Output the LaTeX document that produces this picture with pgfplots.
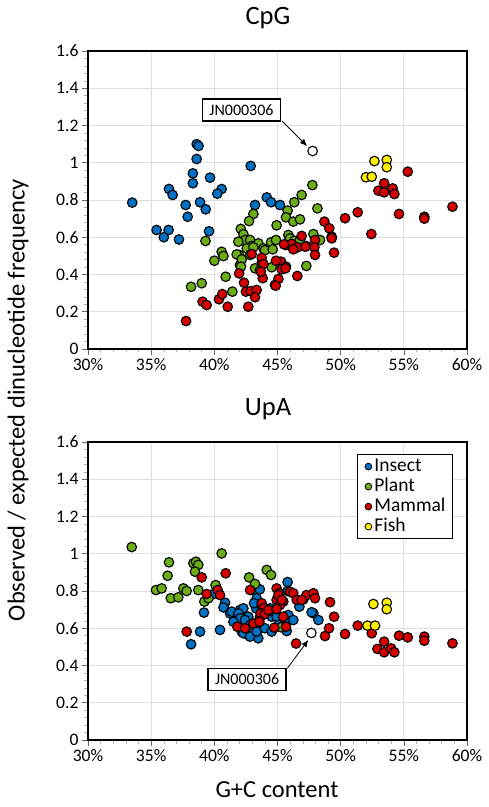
\documentclass[border=0pt]{standalone}
\usepackage{pgfplots}
\pgfplotsset{compat=1.18}
\usepackage{fontspec}
\setmainfont{Carlito}
\usetikzlibrary{arrows.meta}
\definecolor{cInsect}{RGB}{0,112,192}
\definecolor{cPlant}{RGB}{108,172,24}
\definecolor{cMammal}{RGB}{212,0,0}
\definecolor{cFish}{RGB}{255,240,0}
\pgfplotsset{
  base/.style={
    scale only axis, width=379pt, height=298pt,
    xmin=30, xmax=60, ymin=0, ymax=1.6,
    xtick={30,35,40,45,50,55,60},
    xticklabels={30\%,35\%,40\%,45\%,50\%,55\%,60\%},
    ytick={0,0.2,0.4,0.6,0.8,1,1.2,1.4,1.6},
    yticklabels={0,0.2,0.4,0.6,0.8,1,1.2,1.4,1.6},
    minor x tick num=4, minor y tick num=4,
    tick align=outside, tick pos=left,
    major tick length=6pt, minor tick length=3.5pt,
    major tick style={gray!80!black, line width=0.6pt},
    minor tick style={gray!60, line width=0.5pt},
    grid=major, major grid style={gray!25, line width=0.7pt},
    axis line style={black, line width=1.4pt},
    ticklabel style={font=\fontsize{17.6}{17.6}\selectfont},
    clip=false,
    legend image code/.code={\path[draw=none, fill=none] (0pt,-3pt) rectangle (10pt,3pt); \draw[##1, mark size=3.4pt, line width=0.8pt] plot coordinates {(5pt,0pt)};},
  },
  sp/.style={only marks, mark=*, mark size=4.8pt, draw=black, fill=#1, line width=1.1pt},
}
\begin{document}
\begin{tikzpicture}[x=1pt,y=1pt]
\useasboundingbox (0,0) rectangle (488,807);
% ---------------- CpG ----------------
\begin{axis}[base, at={(88pt,458pt)}, anchor=south west]
\addplot[sp=cInsect] coordinates {
(33.5,0.786)(38.6,1.10)(38.75,1.09)(38.6,1.02)(38.3,0.943)(38.3,0.89)(39.66,0.92)
(36.41,0.859)(36.7,0.827)(40.58,0.859)(40.24,0.834)(42.88,0.983)(37.73,0.773)
(38.87,0.788)(39.32,0.75)(37.89,0.71)(44.15,0.814)(44.49,0.788)(43.22,0.773)
(45.2,0.773)(35.43,0.639)(36.38,0.639)(36.0,0.60)(37.2,0.588)(39.58,0.632)
};
\addplot[sp=cPlant] coordinates {
(47.76,0.88)(46.91,0.827)(46.33,0.788)(45.8,0.743)(48.16,0.755)(45.67,0.707)
(46.25,0.684)(46.78,0.696)(44.93,0.664)(43.09,0.725)(42.75,0.687)(42.09,0.645)
(42.3,0.616)(42.43,0.585)(39.3,0.58)(40.58,0.522)(40.72,0.499)(40.0,0.474)
(40.9,0.388)(38.16,0.334)(39.0,0.353)(41.43,0.308)(41.96,0.505)(42.03,0.451)
(42.83,0.585)(42.96,0.553)(43.49,0.567)(43.89,0.54)(44.0,0.53)(44.49,0.573)
(44.62,0.535)(44.88,0.585)(45.86,0.612)(45.99,0.594)(46.33,0.581)(46.78,0.585)
(47.84,0.617)(48.37,0.585)(41.9,0.576)(42.56,0.54)(42.83,0.505)(43.09,0.546)
(41.77,0.508)(42.17,0.481)(42.11,0.442)(43.22,0.433)(43.62,0.424)(44.54,0.439)
(47.28,0.446)
};
\addplot[sp=cMammal] coordinates {
(37.76,0.150)(39.07,0.254)(39.39,0.236)(40.37,0.267)(40.63,0.295)(41.06,0.227)
(41.96,0.406)(42.35,0.356)(42.69,0.227)(42.5,0.308)(42.88,0.311)(43.35,0.317)
(43.22,0.278)(42.96,0.51)(43.75,0.463)(43.83,0.38)(44.8,0.344)(45.07,0.376)
(43.75,0.49)(43.89,0.456)(43.69,0.415)(48.71,0.684)(49.1,0.648)(45.67,0.558)
(46.12,0.564)(46.6,0.546)(46.91,0.607)(47.28,0.553)(47.97,0.585)(47.92,0.546)
(47.97,0.505)(45.28,0.469)(44.88,0.474)(45.67,0.442)(45.33,0.428)(46.57,0.392)
(44.86,0.34)(45.51,0.562)(46.25,0.535)(47.2,0.549)(45.64,0.433)(55.31,0.952)
(53.44,0.89)(52.99,0.85)(53.44,0.841)(54.12,0.862)(54.25,0.832)(58.85,0.764)
(50.35,0.702)(51.35,0.734)(54.62,0.725)(56.62,0.71)(56.62,0.70)(52.43,0.617)
(49.29,0.603)(49.29,0.594)(49.48,0.517)
};
\addplot[sp=cFish] coordinates {
(52.67,1.009)(53.65,1.015)(53.65,0.976)(52.0,0.922)(52.46,0.925)
};
\addplot[sp=white, forget plot] coordinates {(47.78,1.063)};
\draw[-{Latex[length=7pt,width=6pt]}, line width=0.8pt] (axis cs:45.36,1.224) -- (axis cs:47.34,1.09);
\node[draw=black, line width=1.3pt, fill=white, font=\fontsize{16}{16}\selectfont, inner xsep=7pt, minimum height=22pt] at (axis cs:42.15,1.283) {JN000306};
\end{axis}
% ---------------- UpA ----------------
\begin{axis}[base, at={(88pt,67pt)}, anchor=south west,
  legend cell align=left,
  legend style={at={(1,1)}, anchor=north east, xshift=-14pt, yshift=-12pt,
    draw=black, line width=1.2pt, font=\fontsize{19.5}{19.5}\selectfont,
    nodes={inner sep=1pt, text height=13.5pt, text depth=4.5pt}, row sep=0pt,
    inner xsep=6pt, inner ysep=2pt}]
\addplot[sp=cInsect] coordinates {
(39.18,0.684)(38.16,0.514)(38.87,0.582)(40.45,0.591)(40.85,0.737)(40.72,0.712)
(41.24,0.68)(42.03,0.698)(42.3,0.707)(41.98,0.662)(42.17,0.635)(42.69,0.662)
(42.69,0.564)(42.17,0.582)(43.43,0.591)(43.48,0.546)(43.09,0.805)(43.35,0.761)
(43.3,0.707)(44.54,0.662)(44.67,0.689)(44.41,0.707)(39.87,0.782)(45.8,0.848)
(45.8,0.80)(41.38,0.689)(41.9,0.68)(42.03,0.653)(41.51,0.635)(42.43,0.644)
(42.83,0.617)(43.49,0.635)(42.3,0.573)(42.83,0.555)(43.35,0.582)(44.93,0.662)
(45.07,0.617)(45.86,0.671)(45.73,0.635)(46.25,0.644)(47.84,0.68)(48.24,0.644)
(43.14,0.734)(44.0,0.6)(44.54,0.582)(46.73,0.716)(47.7,0.686)(45.73,0.585)
(43.6,0.809)
};
\addplot[sp=cPlant] coordinates {
(33.46,1.036)(36.41,0.954)(36.3,0.882)(35.38,0.805)(35.83,0.814)(36.55,0.761)
(37.15,0.766)(37.55,0.814)(37.81,0.80)(38.34,0.949)(38.55,0.957)(38.73,0.94)
(38.47,0.904)(38.73,0.805)(39.21,0.743)(39.53,0.761)(40.1,0.832)(40.58,1.002)
(42.75,0.873)(43.22,0.838)(44.15,0.913)(44.49,0.886)(45.3,0.605)
};
\addplot[sp=cMammal] coordinates {
(39.0,0.873)(40.9,0.895)(39.39,0.784)(40.26,0.805)(40.45,0.778)(37.81,0.582)
(42.83,0.805)(41.82,0.608)(42.43,0.6)(43.75,0.72)(43.83,0.671)(43.62,0.662)
(44.75,0.603)(44.93,0.814)(44.93,0.752)(45.15,0.788)(45.99,0.796)(45.46,0.743)
(45.2,0.725)(43.75,0.734)(43.89,0.707)(43.67,0.68)(44.0,0.676)(44.28,0.698)
(44.93,0.703)(45.46,0.662)(45.67,0.608)(46.25,0.788)(46.52,0.752)(47.05,0.755)
(47.3,0.778)(47.84,0.788)(47.97,0.761)(43.09,0.626)(43.57,0.635)(46.47,0.518)
(48.76,0.558)(49.16,0.74)(45.07,0.778)(45.33,0.752)(46.91,0.752)(49.48,0.662)
(49.08,0.6)(50.35,0.569)(51.35,0.614)(52.46,0.573)(53.44,0.528)(52.91,0.489)
(53.44,0.471)(53.99,0.492)(54.25,0.471)(54.62,0.56)(55.31,0.551)(56.62,0.555)
(56.62,0.533)(58.85,0.519)
};
\addplot[sp=cFish] coordinates {
(52.59,0.73)(53.65,0.737)(53.65,0.702)(52.12,0.614)(52.72,0.614)
};
\addplot[sp=white, forget plot] coordinates {(47.68,0.575)};
\draw[-{Latex[length=7pt,width=6pt]}, line width=0.8pt] (axis cs:45.78,0.385) -- (axis cs:47.44,0.537);
\node[draw=black, line width=1.3pt, fill=white, font=\fontsize{16}{16}\selectfont, inner xsep=7pt, minimum height=22pt] at (axis cs:42.59,0.325) {JN000306};
\legend{Insect,Plant,Mammal,Fish}
\end{axis}
\node[font=\fontsize{26.5}{26.5}\selectfont] at (268,789) {CpG};
\node[font=\fontsize{26.5}{26.5}\selectfont] at (268,398) {UpA};
\node[font=\fontsize{24.5}{24.5}\selectfont, rotate=90] at (18,407) {Observed / expected dinucleotide frequency};
\node[font=\fontsize{24.5}{24.5}\selectfont] at (277,17) {G+C content};
\end{tikzpicture}
\end{document}
